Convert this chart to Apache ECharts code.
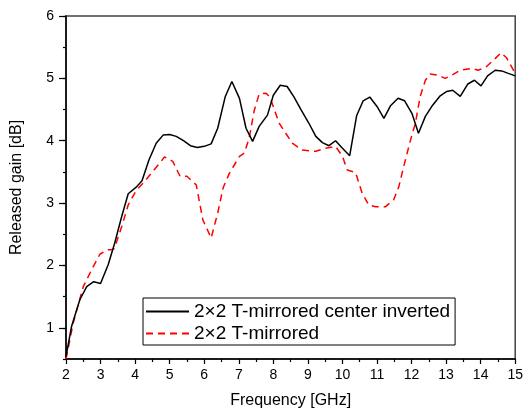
<!DOCTYPE html>
<html>
<head>
<meta charset="utf-8">
<script src="https://cdn.jsdelivr.net/npm/echarts@6/dist/echarts.min.js"></script>
<style>
  html, body { margin: 0; padding: 0; background: #fff; }
  #chart { width: 526px; height: 414px; }
</style>
</head>
<body>
<div id="chart"></div>
<script>
// Released gain versus frequency for two 2x2 T-mirrored layouts
const seriesNames = ['2\u00d72 T-mirrored center inverted', '2\u00d72 T-mirrored'];

const freqInverted = [2.0, 2.16, 2.4, 2.6, 2.8, 3.0, 3.22, 3.41, 3.61, 3.8, 4.04, 4.2, 4.4, 4.61, 4.81, 5.0, 5.19, 5.4, 5.6, 5.8, 6.0, 6.2, 6.39, 6.61, 6.8, 7.02, 7.21, 7.4, 7.59, 7.83, 8.0, 8.2, 8.4, 8.6, 8.8, 9.03, 9.23, 9.42, 9.61, 9.8, 10.0, 10.21, 10.41, 10.6, 10.79, 11.0, 11.2, 11.39, 11.61, 11.8, 12.01, 12.2, 12.4, 12.61, 12.83, 13.02, 13.19, 13.41, 13.63, 13.82, 14.01, 14.2, 14.42, 14.61, 14.8, 15.0];
const gainInverted = [0.54, 1.02, 1.45, 1.66, 1.74, 1.71, 2.01, 2.36, 2.78, 3.15, 3.26, 3.36, 3.69, 3.96, 4.09, 4.10, 4.07, 4.0, 3.92, 3.89, 3.91, 3.95, 4.20, 4.71, 4.95, 4.68, 4.20, 3.99, 4.23, 4.41, 4.73, 4.89, 4.87, 4.70, 4.50, 4.28, 4.07, 3.97, 3.92, 4.00, 3.88, 3.76, 4.40, 4.64, 4.70, 4.55, 4.36, 4.56, 4.68, 4.64, 4.44, 4.12, 4.39, 4.57, 4.72, 4.79, 4.81, 4.71, 4.91, 4.97, 4.88, 5.04, 5.13, 5.12, 5.08, 5.04];

const freqMirrored = [2.0, 2.21, 2.5, 2.74, 2.98, 3.2, 3.3, 3.4, 3.61, 3.8, 4.04, 4.25, 4.47, 4.71, 4.85, 5.09, 5.3, 5.5, 5.77, 5.96, 6.2, 6.39, 6.55, 6.73, 7.02, 7.16, 7.3, 7.45, 7.59, 7.79, 7.9, 8.17, 8.36, 8.55, 8.84, 9.23, 9.51, 9.8, 10.0, 10.14, 10.38, 10.57, 10.76, 10.96, 11.24, 11.48, 11.63, 11.77, 11.97, 12.11, 12.25, 12.4, 12.54, 12.78, 12.97, 13.16, 13.41, 13.74, 13.93, 14.17, 14.37, 14.59, 14.75, 15.0];
const gainMirrored = [0.5, 1.08, 1.66, 1.93, 2.18, 2.25, 2.25, 2.27, 2.62, 2.97, 3.21, 3.33, 3.48, 3.64, 3.74, 3.67, 3.43, 3.43, 3.29, 2.73, 2.44, 2.84, 3.25, 3.48, 3.75, 3.80, 4.04, 4.49, 4.75, 4.76, 4.70, 4.28, 4.12, 3.96, 3.85, 3.83, 3.88, 3.91, 3.75, 3.53, 3.49, 3.16, 2.97, 2.94, 2.94, 3.05, 3.26, 3.58, 4.01, 4.28, 4.71, 4.97, 5.07, 5.05, 5.00, 5.05, 5.13, 5.16, 5.13, 5.19, 5.29, 5.41, 5.33, 5.08];

const yTickLabels = [1, 2, 3, 4, 5, 6];

const pairs = (xs, ys) => xs.map((x, i) => [x, ys[i]]);
const FONT = "'Liberation Sans', Arial, sans-serif";

const chart = echarts.init(document.getElementById('chart'), null, { renderer: 'canvas' });

chart.setOption({
  animation: false,
  backgroundColor: '#fff',
  textStyle: { fontFamily: FONT },
  grid: {
    left: 66, right: 9, top: 16, bottom: 55,
    show: true, borderColor: '#444', borderWidth: 1.5, backgroundColor: 'transparent'
  },
  legend: {
    orient: 'vertical',
    left: 143, top: 298,
    padding: [4, 5, 2, 2],
    itemWidth: 43, itemHeight: 14, itemGap: 3,
    backgroundColor: '#fff',
    borderColor: '#000', borderWidth: 1,
    itemStyle: { opacity: 0, borderWidth: 0 },
    textStyle: { fontFamily: FONT, fontSize: 19, lineHeight: 19, color: '#000' },
    data: seriesNames
  },
  xAxis: {
    type: 'value',
    min: 2, max: 15, interval: 1,
    name: 'Frequency [GHz]',
    nameLocation: 'middle', nameGap: 34,
    nameTextStyle: { fontFamily: FONT, fontSize: 16, color: '#000' },
    axisLine: { show: true, lineStyle: { color: '#000', width: 1.5 } },
    axisTick: { show: true, length: 5, lineStyle: { color: '#000', width: 1.2 } },
    minorTick: { show: true, splitNumber: 2, length: 3, lineStyle: { color: '#000', width: 1.2 } },
    axisLabel: { fontFamily: FONT, fontSize: 14, color: '#000', margin: 9 },
    splitLine: { show: false },
    minorSplitLine: { show: false }
  },
  yAxis: [
    {
      type: 'value',
      min: 0.5, max: 6, interval: 0.5,
      position: 'left',
      name: 'Released gain [dB]',
      nameLocation: 'middle', nameGap: 41,
      nameTextStyle: { fontFamily: FONT, fontSize: 16, color: '#000' },
      axisLine: { show: true, lineStyle: { color: '#000', width: 1.5 } },
      axisTick: { show: true, length: 3, lineStyle: { color: '#000', width: 1.2 } },
      axisLabel: { show: false },
      splitLine: { show: false }
    },
    {
      type: 'value',
      min: 0.5, max: 6,
      position: 'left', offset: 0,
      axisLine: { show: false },
      axisTick: { show: true, length: 7, customValues: yTickLabels, lineStyle: { color: '#000', width: 1.2 } },
      axisLabel: { show: true, customValues: yTickLabels, fontFamily: FONT, fontSize: 14, color: '#000', margin: 12 },
      splitLine: { show: false }
    }
  ],
  series: [
    {
      name: seriesNames[0],
      type: 'line',
      data: pairs(freqInverted, gainInverted),
      symbol: 'none',
      lineStyle: { color: '#000', width: 1.5 },
      itemStyle: { color: '#000' },
      z: 3
    },
    {
      name: seriesNames[1],
      type: 'line',
      data: pairs(freqMirrored, gainMirrored),
      symbol: 'none',
      lineStyle: { color: '#ff0000', width: 1.5, type: [7, 5] },
      itemStyle: { color: '#ff0000' },
      z: 2
    }
  ]
});
</script>
</body>
</html>
